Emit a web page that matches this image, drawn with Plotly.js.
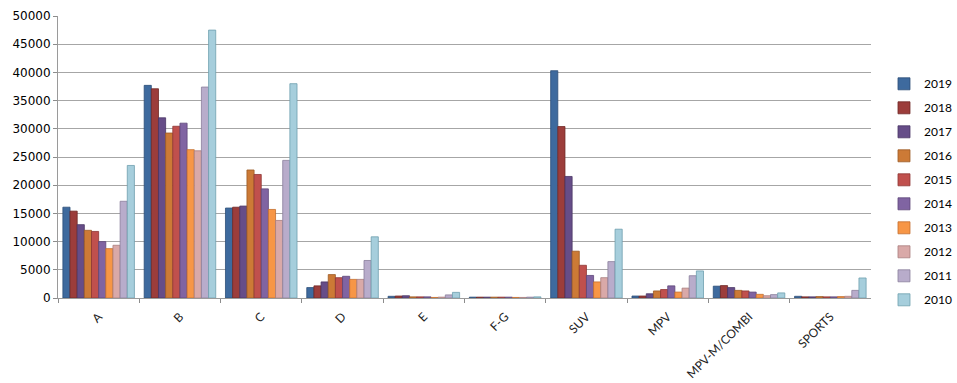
<!DOCTYPE html>
<html>
<head>
<meta charset="utf-8">
<script src="https://cdn.plot.ly/plotly-3.0.1.min.js"></script>
<style>html,body{margin:0;padding:0;background:#fff;}#chart{width:957px;height:383px;}</style>
</head>
<body>
<div id="chart"></div>
<script>
const categories = ["A", "B", "C", "D", "E", "F-G", "SUV", "MPV", "MPV-M/COMBI", "SPORTS"];
const years = ["2019", "2018", "2017", "2016", "2015", "2014", "2013", "2012", "2011", "2010"];

const v2019 = [16100, 37700, 15950, 1850, 300, 150, 40300, 350, 2100, 300];
const v2018 = [15400, 37100, 16100, 2150, 350, 150, 30400, 350, 2200, 200];
const v2017 = [13000, 31950, 16300, 2850, 400, 150, 21550, 750, 1850, 200];
const v2016 = [12000, 29250, 22700, 4150, 200, 150, 8300, 1250, 1350, 250];
const v2015 = [11800, 30450, 21900, 3600, 200, 150, 5800, 1500, 1250, 200];
const v2014 = [10000, 31000, 19350, 3850, 200, 150, 4000, 2150, 1050, 200];
const v2013 = [8750, 26300, 15700, 3300, 100, 100, 2850, 1050, 650, 250];
const v2012 = [9350, 26100, 13750, 3300, 150, 100, 3600, 1750, 400, 300];
const v2011 = [17150, 37400, 24400, 6650, 550, 150, 6450, 3950, 600, 1350];
const v2010 = [23500, 47500, 38000, 10850, 1000, 200, 12200, 4800, 900, 3550];

const seriesValues = [v2019, v2018, v2017, v2016, v2015, v2014, v2013, v2012, v2011, v2010];
const colors = ["#3E6A9E", "#9C3D3B", "#664D88", "#CC7A36", "#C0504D", "#8064A2", "#F79646", "#D9A9A8", "#B8ACCB", "#A6CEDC"];
const edges  = ["#2C4E77", "#702826", "#4A3664", "#9C5B25", "#8E3634", "#5D4678", "#C46F2E", "#A87E7D", "#8A7F9C", "#6F9FAE"];

const traces = years.map((y, i) => ({
  type: "bar",
  name: y,
  x: categories,
  y: seriesValues[i],
  legendgroup: "g" + y,
  marker: { color: colors[i], line: { color: edges[i], width: 0.8 } },
  hoverinfo: "x+y+name"
}));

const layout = {
  width: 957,
  height: 383,
  margin: { l: 58, r: 20, t: 16, b: 85, autoexpand: false },
  paper_bgcolor: "#ffffff",
  plot_bgcolor: "#ffffff",
  barmode: "group",
  bargap: 0.12,
  bargroupgap: 0,
  showlegend: true,
  legend: {
    x: 0.9397, xanchor: "left",
    y: 0.811, yanchor: "top",
    tracegroupgap: 5,
    font: { family: "Lato, 'Liberation Sans', sans-serif", size: 12, color: "#000" },
    bgcolor: "rgba(0,0,0,0)"
  },
  xaxis: {
    type: "category",
    domain: [0, 0.9249],
    tickangle: -45,
    tickson: "boundaries",
    ticks: "outside",
    ticklen: 4,
    tickcolor: "#8C8C8C",
    ticklabelstandoff: 6,
    showline: true,
    linecolor: "#9A9A9A",
    linewidth: 1,
    showgrid: false,
    tickfont: { family: "Lato, 'Liberation Sans', sans-serif", size: 12, color: "#222" }
  },
  yaxis: {
    range: [0, 50000],
    dtick: 5000,
    tick0: 0,
    tickformat: "d",
    ticks: "outside",
    ticklen: 4,
    tickcolor: "#8C8C8C",
    showline: true,
    linecolor: "#9A9A9A",
    linewidth: 1,
    showgrid: true,
    gridcolor: "#A6A6A6",
    gridwidth: 1,
    zeroline: false,
    tickfont: { family: "'DejaVu Sans', Verdana, sans-serif", size: 12, color: "#000" }
  }
};

Plotly.newPlot("chart", traces, layout, { displayModeBar: false, staticPlot: true });
</script>
</body>
</html>
